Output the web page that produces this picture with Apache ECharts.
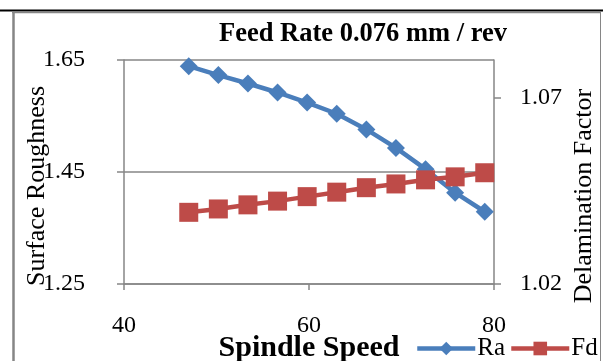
<!DOCTYPE html>
<html>
<head>
<meta charset="utf-8">
<script src="https://cdn.jsdelivr.net/npm/echarts@6/dist/echarts.min.js"></script>
<style>
html,body{margin:0;padding:0;background:#fff;}
#c{width:603px;height:361px;}
</style>
</head>
<body>
<div id="c"></div>
<script>
const spindleSpeed = [47, 50.2, 53.4, 56.6, 59.8, 63, 66.2, 69.4, 72.6, 75.8, 79];
const raValues = [1.639, 1.623, 1.608, 1.592, 1.574, 1.554, 1.526, 1.493, 1.455, 1.413, 1.379];
const fdValues = [1.0392, 1.0401, 1.0412, 1.0422, 1.0434, 1.0446, 1.0458, 1.0468, 1.0479, 1.0487, 1.0498];
const leftTicks = [1.25, 1.45, 1.65];
const rightTicks = [1.02, 1.07];
const xTicks = [40, 60, 80];

const FONT = '"Liberation Serif", "Times New Roman", serif';
const GRAY = '#868686';
const BLUE = '#4A7EBB';
const RED = '#BE4B48';

const chart = echarts.init(document.getElementById('c'), null, {renderer: 'canvas'});
chart.setOption({
  animation: false,
  backgroundColor: '#fff',
  textStyle: {fontFamily: FONT, color: '#000'},
  title: {
    text: 'Feed Rate 0.076 mm / rev',
    left: 214, top: 16,
    textStyle: {fontFamily: FONT, fontSize: 26.5, fontWeight: 'bold', color: '#000'}
  },
  grid: {left: 124, right: 109, top: 60, bottom: 77, containLabel: false, outerBoundsMode: 'none'},
  legend: {
    left: 410, top: 331,
    itemWidth: 58, itemHeight: 17, itemGap: 4,
    lineStyle: {width: 4.5},
    textStyle: {fontFamily: FONT, fontSize: 25, color: '#000', padding: [0, 0, 0, -3]},
    data: ['Ra', 'Fd']
  },
  xAxis: {
    type: 'value', min: 40, max: 80, interval: 20,
    name: 'Spindle Speed', nameLocation: 'middle', nameGap: 49, nameMoveOverlap: false,
    nameTextStyle: {fontFamily: FONT, fontSize: 30, fontWeight: 'bold', color: '#000', verticalAlign: 'top'},
    axisLine: {show: true, lineStyle: {color: GRAY, width: 1.5}},
    axisTick: {show: true, length: 6, lineStyle: {color: GRAY, width: 1.5}, customValues: xTicks},
    axisLabel: {margin: 30, fontFamily: FONT, fontSize: 24, color: '#000', customValues: xTicks},
    splitLine: {show: false}
  },
  yAxis: [{
    type: 'value', min: 1.25, max: 1.65, interval: 0.2, position: 'left',
    axisLine: {show: true, onZero: false, lineStyle: {color: GRAY, width: 1.5}},
    axisTick: {show: true, length: 7, inside: false, lineStyle: {color: GRAY, width: 1.5}, customValues: leftTicks},
    axisLabel: {margin: 39, fontFamily: FONT, fontSize: 24, color: '#000', customValues: leftTicks,
      formatter: v => v.toFixed(2)},
    splitLine: {show: true, lineStyle: {color: GRAY, width: 1.5}}
  }, {
    type: 'value', min: 1.02, max: 1.08, position: 'right',
    axisLine: {show: true, onZero: false, lineStyle: {color: GRAY, width: 1.5}},
    axisTick: {show: true, length: 7, lineStyle: {color: GRAY, width: 1.5}, customValues: rightTicks},
    axisLabel: {margin: 26, fontFamily: FONT, fontSize: 24, color: '#000', customValues: rightTicks,
      formatter: v => v.toFixed(2)},
    splitLine: {show: false}
  }],
  series: [{
    name: 'Ra', type: 'line', yAxisIndex: 0,
    data: spindleSpeed.map((x, i) => [x, raValues[i]]),
    symbol: 'diamond', symbolSize: 18,
    lineStyle: {color: BLUE, width: 4.5},
    itemStyle: {color: BLUE},
    z: 3
  }, {
    name: 'Fd', type: 'line', yAxisIndex: 1,
    data: spindleSpeed.map((x, i) => [x, fdValues[i]]),
    symbol: 'rect', symbolSize: 19,
    lineStyle: {color: RED, width: 4.5},
    itemStyle: {color: RED},
    z: 4
  }],
  graphic: [
    {type: 'line', shape: {x1: 0, y1: 10.5, x2: 603, y2: 10.5}, style: {stroke: '#000', lineWidth: 2}, silent: true},
    {type: 'line', shape: {x1: 12, y1: 12.5, x2: 600, y2: 12.5}, style: {stroke: GRAY, lineWidth: 1.5}, silent: true},
    {type: 'line', shape: {x1: 13.5, y1: 12, x2: 13.5, y2: 361}, style: {stroke: GRAY, lineWidth: 2.5}, silent: true},
    {type: 'line', shape: {x1: 600.5, y1: 12, x2: 600.5, y2: 361}, style: {stroke: GRAY, lineWidth: 1}, silent: true},
    {type: 'text', x: 37, y: 186, rotation: Math.PI / 2,
      style: {text: 'Surface Roughness', font: '26px ' + FONT, fill: '#000', align: 'center', verticalAlign: 'middle'}, silent: true},
    {type: 'text', x: 584, y: 196, rotation: Math.PI / 2,
      style: {text: 'Delamination Factor', font: '26px ' + FONT, fill: '#000', align: 'center', verticalAlign: 'middle'}, silent: true}
  ]
});
</script>
</body>
</html>
